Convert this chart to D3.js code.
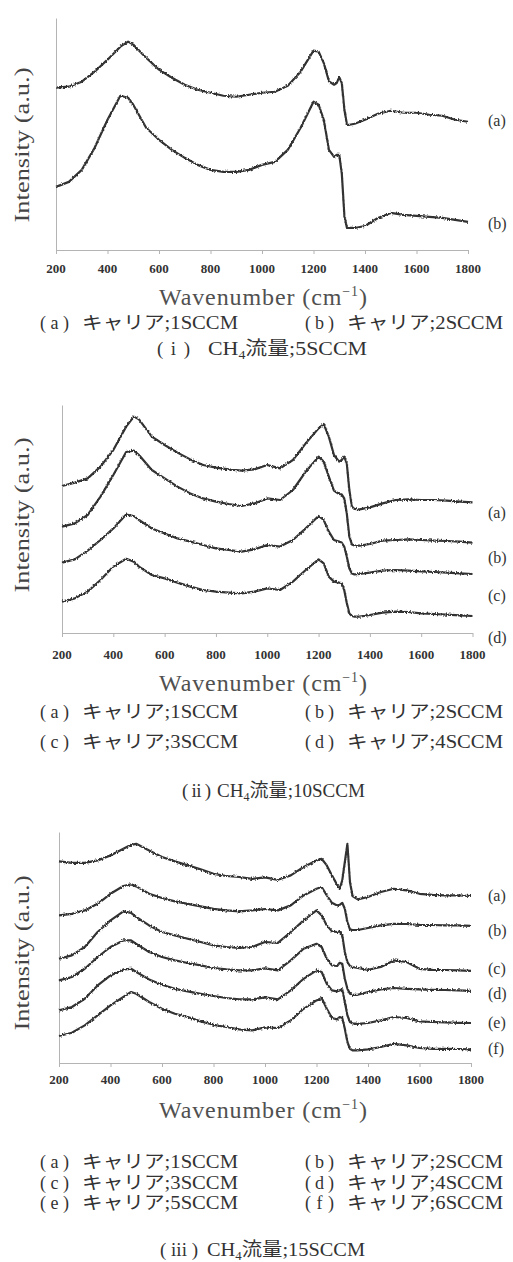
<!DOCTYPE html>
<html>
<head>
<meta charset="utf-8">
<script src="https://cdnjs.cloudflare.com/ajax/libs/d3/7.8.5/d3.min.js"></script>
<style>
  body { margin: 0; background: #fff; }
  svg text { font-family: "Liberation Serif", "Times New Roman", "DejaVu Serif", "Noto Sans CJK JP", serif; }
  .axis path, .axis line { stroke: #b4b4b4; }
  .spec { fill: none; stroke: #333; stroke-width: 2.2; stroke-linejoin: round; }
</style>
</head>
<body>
<div id="chart"></div>
<script>
// shared wavenumber grid (cm-1)
var wavenumbers = [200,250,300,350,400,450,480,500,550,600,650,700,750,800,850,900,950,1000,1050,1100,1150,1200,1220,1240,1260,1280,1290,1300,1310,1320,1330,1340,1360,1400,1450,1500,1550,1600,1650,1700,1750,1800];
var xTicks = [200,400,600,800,1000,1200,1400,1600,1800];

// (i) CH4 5SCCM
var p1a = [81,81.5,84,89,95,101.5,104,102.5,96,90,86,82.5,80,78.5,77,76.5,77.5,78.5,79,82,89,99.5,99,93.3,84.2,82.5,83.3,86.3,83.3,70,62.5,62.5,63,65,68,69.5,68.5,68.5,67.5,67,65,64];
var p1b = [31.5,34,40,51,65,77,76,72.5,61,55,50,46,42.5,40,39,39,40,42.5,44,50,61,74,72.5,65,50,46.5,47.5,47.5,38,17,11,11,11,12,16,18.5,17.5,17,16.5,16,15,14];

// (ii) CH4 10SCCM
var p2a = [73.5,75.2,77.3,83.2,91.5,103.2,108.2,106.8,98.2,94,90.2,86.8,84,82.7,81.8,81.2,81.8,84,82.3,86.5,94.8,102.3,104.5,98.2,89,85.7,86.5,88.2,84.8,71.5,63.2,62,61.8,62.8,64.8,66.5,66.8,66.5,66.5,66.2,65.7,65.3];
var p2b = [53.2,54.8,59,68.2,79,90.5,91.2,89,81.5,77.3,73.2,69.8,67.3,65.7,64.5,63.5,64.8,67.3,66.5,71.5,80.7,88.2,85.7,78.2,71.2,69.5,69.3,67.3,59.8,48.2,44.3,43.7,43.7,44.5,46.2,46.5,46.8,46.5,46.2,46,45.7,45.2];
var p2c = [35.2,36.8,41.2,46.5,52.3,59.2,58.5,56.5,52.3,49.8,47.3,45.7,44,42.3,41.5,40.7,41.8,44,43.2,46.5,52.3,58.5,56.5,50.7,46.5,45.7,45.2,43.2,38.2,32.3,29.8,29.3,29.5,30.2,31.2,31.5,31.2,30.8,30.5,30.2,29.8,29.5];
var p2d = [15.7,17.3,20.7,26.5,33.2,37.1,35.7,33.2,29,27.3,25.2,23.2,21.5,20.7,20.2,19.8,20.7,22.3,21.5,25.7,31.5,36.8,34.8,28.2,25.7,25.2,25,21.5,15,9.8,8.5,8.2,8.2,9,10.2,10.7,10.5,9.8,9.5,9.2,8.8,8.5];

// (iii) CH4 15SCCM
var p3a = [100.8,100.1,100.1,101.3,103.8,107.1,109.1,109.6,106.3,103,100.8,98.8,96.8,94.6,93.5,93,92.1,92.8,91.6,93.8,98,101.3,102.1,98.8,93.8,89.1,87.1,91.3,100.5,109.6,90.5,83.5,81.8,83,85.5,87.1,86.3,84.6,84.1,83.8,83.8,83.5];
var p3b = [73.8,74.6,76.3,79.6,84.6,88.5,89.3,88.3,84.6,82.5,80.8,79.6,78.3,77.1,76.3,75.8,76.3,77,76.3,78.8,83.8,87.1,88,83.8,80.1,78.8,79.1,80.1,77.1,70.5,66.8,66.5,66.5,67.5,68.8,69.6,69.5,69.1,69,68.8,68.8,68.6];
var p3c = [52.1,53.8,58,65.5,71.3,75.8,75.1,73,68.8,65.5,63.8,62.1,60.5,58.8,58,57.5,58,60.5,60.1,65.5,71.3,76.3,73.8,68.8,65.8,65.5,65.8,63.8,55.5,50.5,48.5,48,47.5,46.6,48,51.3,50.5,47.1,46.6,46.5,46.3,46.1];
var p3d = [41.3,43,47.1,53,58,61.3,61.3,59.6,55.5,53,51.3,50,48.8,47.5,46.8,46.3,46.3,47.3,46.3,51.3,57.1,59.6,58,52.1,48.8,48.5,50.1,49.6,42.1,37.1,34.6,34.1,34.1,35.5,36.8,37.5,37.1,36.8,36.6,36.5,36.3,36.1];
var p3e = [26.3,28,32.1,38.8,43.8,46.8,47.1,45.5,41.8,39.1,37.1,35.8,34.6,33.5,32.5,31.8,31.8,32.8,31.8,36.3,42.1,46.3,45.5,39.6,36.3,35.8,36.3,36.8,30.5,23.8,20.5,19.8,19.6,20,21.3,23,22.5,20.8,20.5,20.3,20.1,20];
var p3f = [13.5,15.1,18.8,23.8,28.8,33,35.5,34.6,30.5,27.1,24.6,23,20.8,19.1,18,16.8,16.3,17.8,17.5,21.3,27.1,31.3,32.5,27.1,22.5,21.8,23,22.5,17.1,10.5,7.1,6.3,6.3,6.8,8,9.6,8.8,7.5,7.1,7.1,7,6.8];

var seriesTags = ["(a)","(b)","(c)","(d)","(e)","(f)"];
var carrierTexts = ["キャリア;1SCCM","キャリア;2SCCM","キャリア;3SCCM","キャリア;4SCCM","キャリア;5SCCM","キャリア;6SCCM"];
var panelNumbers = ["( i )","( ii )","( iii )"];
var ch4Flows = ["5SCCM","10SCCM","15SCCM"];

var panels = [
  { series: [p1a, p1b], yMax: 115.8, left: 56, right: 468, top: 18, bottom: 250,
    labelY: [120, 223], tickY: 268, xTitleY: 297, legendY: [323], yLabelY: 145,
    cap: { y: 348, tagX: 157, tagLen: 33, x: 208, len: 159 } },
  { series: [p2a, p2b, p2c, p2d], yMax: 114, left: 62, right: 472.5, top: 405, bottom: 633,
    labelY: [512, 557, 595, 637], tickY: 654, xTitleY: 683, legendY: [712, 742], yLabelY: 515,
    cap: { y: 790, tagX: 182, tagLen: 29, x: 217, len: 148 } },
  { series: [p3a, p3b, p3c, p3d, p3e, p3f], yMax: 115.5, left: 59, right: 471, top: 832, bottom: 1063,
    labelY: [895, 930, 968, 993, 1022, 1048], tickY: 1079, xTitleY: 1110, legendY: [1162, 1183, 1203], yLabelY: 953,
    cap: { y: 1249, tagX: 160, tagLen: 38, x: 207, len: 158 } }
];

var svg = d3.select("#chart").append("svg")
    .attr("width", 513)
    .attr("height", 1262);

// slight grain so the spectra look like measured traces
var filt = svg.append("defs").append("filter").attr("id", "grain")
    .attr("x", "-2%").attr("y", "-5%").attr("width", "104%").attr("height", "110%");
filt.append("feTurbulence").attr("type", "fractalNoise").attr("baseFrequency", "0.8 0.5")
    .attr("numOctaves", 1).attr("seed", 4).attr("result", "n");
filt.append("feColorMatrix").attr("in", "n").attr("type", "matrix")
    .attr("values", "0 0 0 0 0.5  1 0 0 0 0  0 0 0 0 0  0 0 0 0 1").attr("result", "m");
filt.append("feDisplacementMap").attr("in", "SourceGraphic").attr("in2", "m")
    .attr("scale", 4).attr("xChannelSelector", "R").attr("yChannelSelector", "G");

panels.forEach(function (p, pi) {
  var x = d3.scaleLinear().domain([200, 1800]).range([p.left, p.right]);
  var y = d3.scaleLinear().domain([0, p.yMax]).range([p.bottom, p.top]);

  // y axis: plain line, no ticks
  svg.append("g")
      .attr("class", "axis")
      .attr("transform", "translate(" + p.left + ",0)")
      .call(d3.axisLeft(y).tickValues([]).tickSizeOuter(0));

  var gx = svg.append("g")
      .attr("class", "axis")
      .attr("transform", "translate(0," + p.bottom + ")")
      .call(d3.axisBottom(x).tickValues(xTicks).tickSize(4).tickSizeOuter(0));
  gx.selectAll("text").remove();

  svg.append("g").selectAll("text")
    .data(xTicks).enter().append("text")
      .attr("x", function (d) { return x(d); })
      .attr("y", p.tickY)
      .attr("dy", "0.35em")
      .attr("text-anchor", "middle")
      .attr("font-size", 13)
      .attr("font-weight", "bold")
      .attr("fill", "#333")
      .text(function (d) { return d; });

  var line = d3.line()
      .x(function (d, i) { return x(wavenumbers[i]); })
      .y(function (d) { return y(d); });

  svg.append("g").attr("filter", "url(#grain)")
    .selectAll("path")
    .data(p.series).enter().append("path")
      .attr("class", "spec")
      .attr("d", line);

  // series tags at right
  svg.append("g").selectAll("text")
    .data(p.labelY).enter().append("text")
      .attr("x", 488)
      .attr("y", function (d) { return d; })
      .attr("dy", "0.35em")
      .attr("font-size", 16)
      .attr("fill", "#333")
      .text(function (d, i) { return seriesTags[i]; });

  // y title
  svg.append("text")
      .attr("transform", "translate(29," + p.yLabelY + ") rotate(-90)")
      .attr("text-anchor", "middle")
      .attr("font-size", 21)
      .attr("fill", "#444")
      .attr("textLength", 155)
      .attr("lengthAdjust", "spacingAndGlyphs")
      .text("Intensity (a.u.)");

  // x title
  var xt = svg.append("text")
      .attr("x", 263).attr("y", p.xTitleY)
      .attr("dy", "0.35em")
      .attr("text-anchor", "middle")
      .attr("font-size", 24)
      .attr("fill", "#505050")
      .attr("textLength", 208)
      .attr("lengthAdjust", "spacing");
  xt.append("tspan").text("Wavenumber (cm");
  xt.append("tspan").attr("font-size", 14).attr("dy", -9).text("−1");
  xt.append("tspan").attr("dy", 9).text(")");

  // legend, two columns
  var n = p.series.length;
  for (var i = 0; i < n; i++) {
    var col = i % 2, row = Math.floor(i / 2);
    var lx = col === 0 ? 40 : 305;
    var ly = p.legendY[row];
    svg.append("text").attr("x", lx).attr("y", ly).attr("dy", "0.35em")
        .attr("font-size", 18).attr("fill", "#333")
        .attr("textLength", 29).attr("lengthAdjust", "spacing")
        .text(seriesTags[i]);
    svg.append("text").attr("x", lx + 42).attr("y", ly).attr("dy", "0.35em")
        .attr("font-size", 18).attr("fill", "#333")
        .attr("textLength", 156).attr("lengthAdjust", "spacingAndGlyphs")
        .text(carrierTexts[i]);
  }

  // caption: panel number, then CH4 flow
  svg.append("text")
      .attr("x", p.cap.tagX).attr("y", p.cap.y)
      .attr("dy", "0.35em")
      .attr("font-size", 19)
      .attr("fill", "#333")
      .attr("textLength", p.cap.tagLen)
      .attr("lengthAdjust", "spacing")
      .text(panelNumbers[pi]);
  var cap = svg.append("text")
      .attr("x", p.cap.x).attr("y", p.cap.y)
      .attr("dy", "0.35em")
      .attr("font-size", 19)
      .attr("fill", "#333")
      .attr("textLength", p.cap.len)
      .attr("lengthAdjust", "spacingAndGlyphs");
  cap.append("tspan").text("CH");
  cap.append("tspan").attr("font-size", 12).attr("dy", 4).text("4");
  cap.append("tspan").attr("dy", -4).text("流量;" + ch4Flows[pi]);
});
</script>
</body>
</html>
